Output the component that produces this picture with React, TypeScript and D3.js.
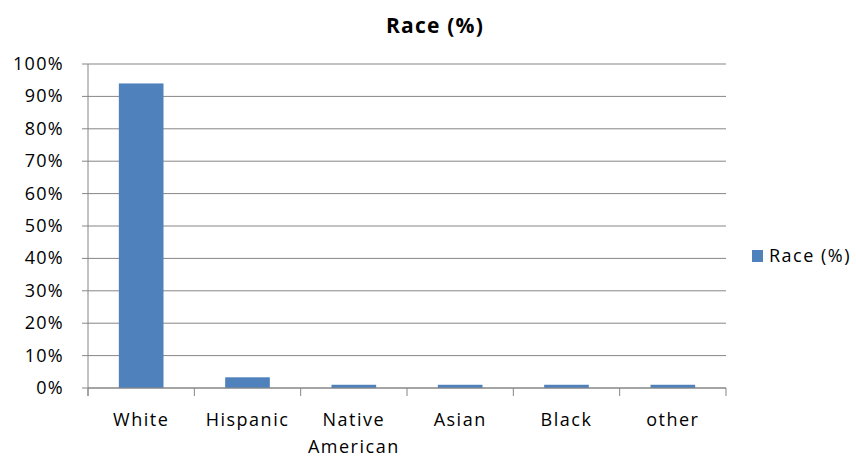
import React from "react";
import * as d3 from "d3";

const categories: string[][] = [["White"], ["Hispanic"], ["Native", "American"], ["Asian"], ["Black"], ["other"]];
const values: number[] = [94, 3.3, 1, 1, 1, 1];
const yTicks: number[] = [0, 10, 20, 30, 40, 50, 60, 70, 80, 90, 100];
const seriesName = "Race (%)";

const W = 856;
const H = 460;
const left = 88;
const right = 726;
const top = 64;
const bottom = 388;
const font = "'Open Sans', 'Liberation Sans', sans-serif";
const barColor = "#4f81bd";
const gridColor = "#868686";

export default function App() {
  const x = d3.scaleBand<number>().domain(d3.range(categories.length)).range([left, right]).paddingInner(0.58).paddingOuter(0.29);
  const y = d3.scaleLinear().domain([0, 100]).range([bottom, top]);
  const step = (right - left) / categories.length;

  return (
    <svg width={W} height={H} style={{ position: "absolute", left: 0, top: 0, background: "#fff" }}>
      <text x={435} y={33} textAnchor="middle" fontFamily={font} fontWeight="bold" fontSize={21} letterSpacing={1.2} fill="#000">
        {seriesName}
      </text>
      {yTicks.map((t) => (
        <g key={t}>
          <line x1={left - 6} x2={right} y1={y(t)} y2={y(t)} stroke={gridColor} strokeWidth={1} />
          <text x={64} y={y(t) + 6} textAnchor="end" fontFamily={font} fontSize={18} letterSpacing={1.3} fill="#000">
            {t}%
          </text>
        </g>
      ))}
      <line x1={left} x2={left} y1={top} y2={bottom + 8} stroke={gridColor} />
      {d3.range(categories.length + 1).map((i) => (
        <line key={i} x1={left + i * step} x2={left + i * step} y1={bottom} y2={bottom + 8} stroke={gridColor} />
      ))}
      {values.map((v, i) => (
        <rect key={i} x={x(i)} width={x.bandwidth()} y={y(v)} height={bottom - y(v)} fill={barColor} />
      ))}
      <line x1={left} x2={right} y1={bottom} y2={bottom} stroke={gridColor} />
      {categories.map((lines, i) => (
        <text key={i} textAnchor="middle" fontFamily={font} fontSize={18} letterSpacing={1.5} fill="#000">
          {lines.map((l, j) => (
            <tspan key={j} x={(x(i) as number) + x.bandwidth() / 2} y={426 + j * 27}>
              {l}
            </tspan>
          ))}
        </text>
      ))}
      <rect x={752} y={250} width={11} height={12} fill={barColor} />
      <text x={769} y={262} fontFamily={font} fontSize={18} letterSpacing={1.5} fill="#000">
        {seriesName}
      </text>
    </svg>
  );
}
